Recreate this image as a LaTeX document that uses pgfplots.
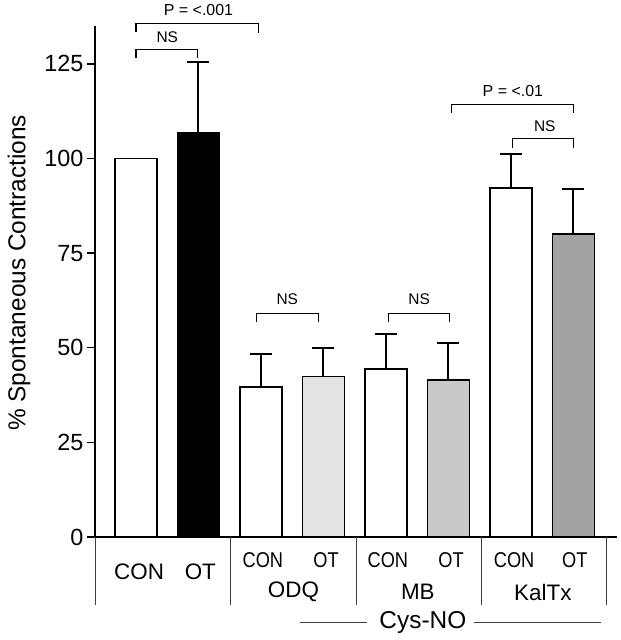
\documentclass[border=0pt]{standalone}
\usepackage{fontspec}
\setmainfont{Liberation Sans}
\usepackage{graphicx}
\usepackage{pgfplots}
\pgfplotsset{compat=1.18}
\newcommand{\fs}[1]{\fontsize{#1}{#1}\selectfont}
\begin{document}
\begin{tikzpicture}
\begin{axis}[
  at={(0,0)}, anchor=south west,
  scale only axis, width=522bp, height=511bp,
  xmin=-0.656, xmax=7.696, ymin=0, ymax=135,
  axis x line=bottom, axis y line=left,
  axis line style={-, line width=1.5bp},
  xtick=\empty,
  ytick={0,25,50,75,100,125},
  tick align=outside, major tick length=8bp,
  tick style={line width=1.4bp, black},
  /pgf/number format/assume math mode=true,
  tick label style={font=\fs{23.5}},
  ylabel={\% Spontaneous Contractions},
  ylabel style={font=\fs{24.5}, at={(axis description cs:-0.1456,0.517)}, anchor=center},
  clip=false,
  every axis plot/.append style={ybar, bar width=42bp, bar shift=0pt, draw=black, line width=1.8bp},
]
% bars
\addplot[fill=white] coordinates {(0,100)};
\addplot[fill=black, error bars/.cd, y dir=plus, y explicit,
  error bar style={line width=2bp, black},
  error mark options={rotate=90, mark size=11bp, line width=2bp, black}]
  coordinates {(1,106.8) +- (0,18.7)};
\addplot[fill=white, error bars/.cd, y dir=plus, y explicit,
  error bar style={line width=2bp, black},
  error mark options={rotate=90, mark size=11bp, line width=2bp, black}]
  coordinates {(2,39.6) +- (0,8.8) (4,44.4) +- (0,9.1) (6,92.1) +- (0,9.1)};
\addplot[fill=black!11, error bars/.cd, y dir=plus, y explicit,
  error bar style={line width=2bp, black},
  error mark options={rotate=90, mark size=11bp, line width=2bp, black}]
  coordinates {(3,42.4) +- (0,7.6)};
\addplot[fill=black!21, error bars/.cd, y dir=plus, y explicit,
  error bar style={line width=2bp, black},
  error mark options={rotate=90, mark size=11bp, line width=2bp, black}]
  coordinates {(5,41.4) +- (0,9.9)};
\addplot[fill=black!36, error bars/.cd, y dir=plus, y explicit,
  error bar style={line width=2bp, black},
  error mark options={rotate=90, mark size=11bp, line width=2bp, black}]
  coordinates {(7,80.1) +- (0,11.9)};
% significance brackets
\draw[line width=1.2bp] (axis cs:0,133.4) -- (axis cs:0,135.7) -- (axis cs:1.96,135.7) -- (axis cs:1.96,133.2);
\node[font=\fs{16}] at (axis cs:1.0,139.3) {P = <.001};
\draw[line width=1.2bp] (axis cs:0,126.6) -- (axis cs:0,128.7) -- (axis cs:0.98,128.7) -- (axis cs:0.98,126.6);
\node[font=\fs{15.5}] at (axis cs:0.5,132.0) {NS};
\draw[line width=1.2bp] (axis cs:1.93,56.8) -- (axis cs:1.93,59.1) -- (axis cs:2.92,59.1) -- (axis cs:2.92,56.8);
\node[font=\fs{15.5}] at (axis cs:2.42,62.8) {NS};
\draw[line width=1.2bp] (axis cs:4.04,56.8) -- (axis cs:4.04,59.1) -- (axis cs:5.02,59.1) -- (axis cs:5.02,56.8);
\node[font=\fs{15.5}] at (axis cs:4.53,62.8) {NS};
\draw[line width=1.2bp] (axis cs:5.05,112.0) -- (axis cs:5.05,114.3) -- (axis cs:7.0,114.3) -- (axis cs:7.0,112.0);
\node[font=\fs{16}] at (axis cs:6.03,117.8) {P = <.01};
\draw[line width=1.2bp] (axis cs:6.02,102.8) -- (axis cs:6.02,105.2) -- (axis cs:7.0,105.2) -- (axis cs:7.0,102.8);
\node[font=\fs{15.5}] at (axis cs:6.54,108.4) {NS};
% category table below the axis
\draw[line width=0.9bp, black!75] (axis cs:-0.656,0) -- (axis cs:-0.656,-18.0);
\draw[line width=0.9bp, black!75] (axis cs:1.504,0) -- (axis cs:1.504,-18.0);
\draw[line width=0.9bp, black!75] (axis cs:3.52,0) -- (axis cs:3.52,-18.0);
\draw[line width=0.9bp, black!75] (axis cs:5.52,0) -- (axis cs:5.52,-18.0);
\draw[line width=0.9bp, black!75] (axis cs:7.52,0) -- (axis cs:7.52,-18.0);
\node[font=\fs{22.5}] at (axis cs:0.05,-9.3) {CON};
\node[font=\fs{22.5}] at (axis cs:1.03,-9.3) {OT};
\node[font=\fs{21.5}] at (axis cs:2.03,-6.1) {\scalebox{0.85}[1]{CON}};
\node[font=\fs{21.5}] at (axis cs:3.04,-6.1) {\scalebox{0.85}[1]{OT}};
\node[font=\fs{21.5}] at (axis cs:4.03,-6.1) {\scalebox{0.85}[1]{CON}};
\node[font=\fs{21.5}] at (axis cs:5.04,-6.1) {\scalebox{0.85}[1]{OT}};
\node[font=\fs{21.5}] at (axis cs:6.05,-6.1) {\scalebox{0.85}[1]{CON}};
\node[font=\fs{21.5}] at (axis cs:7.02,-6.1) {\scalebox{0.85}[1]{OT}};
\node[font=\fs{22.5}] at (axis cs:2.52,-14.6) {ODQ};
\node[font=\fs{22.5}] at (axis cs:4.51,-14.6) {MB};
\node[font=\fs{22.5}] at (axis cs:6.51,-14.6) {KalTx};
\node[font=\fs{24.5}] at (axis cs:4.59,-22.6) {Cys-NO};
\draw[line width=0.9bp, black!75] (axis cs:2.62,-22.6) -- (axis cs:3.70,-22.6);
\draw[line width=0.9bp, black!75] (axis cs:5.41,-22.6) -- (axis cs:7.44,-22.6);
\end{axis}
\pgfresetboundingbox
\useasboundingbox (-95bp,-103bp) rectangle (526bp,537bp);
\end{tikzpicture}
\end{document}
